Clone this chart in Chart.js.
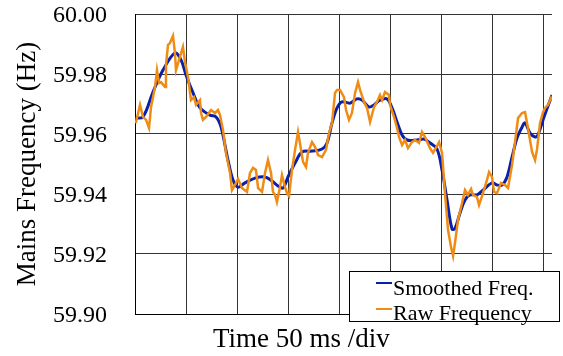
<!DOCTYPE html>
<html>
<head>
<meta charset="utf-8">
<script src="https://cdn.jsdelivr.net/npm/chart.js@4.4.1/dist/chart.umd.min.js"></script>
<style>
    body { margin: 0; background: #fff; }
    #freqChart { display: block; }
</style>
</head>
<body>
<canvas id="freqChart" width="563" height="356"></canvas>
<script>
    // time in ms (50 ms per division), frequency in Hz
    const smoothTime = [0, 7.8, 17.6, 27.4, 39.1, 45.0, 49.9, 56.8, 63.6, 73.4, 79.3, 84.2, 91.0, 95.9, 100.8, 107.6, 117.4, 127.2, 134.1, 139.9, 144.8, 149.7, 156.6, 163.4, 173.2, 183.0, 187.9, 192.8, 197.7, 202.5, 210.4, 217.2, 222.1, 229.0, 233.9, 239.7, 246.6, 251.5, 256.4, 261.3, 266.2, 276.0, 282.8, 288.7, 295.5, 300.4, 305.3, 310.2, 313.1, 318.0, 322.9, 327.8, 334.6, 340.5, 349.3, 354.2, 359.1, 364.0, 368.9, 373.8, 378.7, 381.6, 386.5, 391.4, 394.3, 399.2, 408.0];
    const smoothFreq = [59.9653, 59.9657, 59.9740, 59.9813, 59.9870, 59.9847, 59.9797, 59.9737, 59.9687, 59.9663, 59.9657, 59.9623, 59.9513, 59.9447, 59.9423, 59.9437, 59.9453, 59.9457, 59.9443, 59.9427, 59.9420, 59.9457, 59.9503, 59.9540, 59.9543, 59.9550, 59.9570, 59.9637, 59.9687, 59.9707, 59.9703, 59.9717, 59.9713, 59.9690, 59.9697, 59.9713, 59.9717, 59.9687, 59.9640, 59.9597, 59.9580, 59.9580, 59.9583, 59.9570, 59.9550, 59.9480, 59.9380, 59.9283, 59.9285, 59.9337, 59.9380, 59.9397, 59.9397, 59.9413, 59.9437, 59.9430, 59.9430, 59.9457, 59.9523, 59.9587, 59.9623, 59.9637, 59.9603, 59.9590, 59.9597, 59.9647, 59.9730];

    const rawTime = [0, 1.0, 4.9, 7.8, 10.8, 13.7, 15.7, 19.6, 21.5, 23.5, 25.4, 29.4, 30.3, 32.3, 34.2, 37.2, 39.1, 40.1, 44.0, 46.9, 48.9, 51.9, 54.8, 57.7, 59.7, 63.6, 64.6, 66.5, 69.5, 74.4, 78.3, 81.2, 83.2, 86.1, 89.0, 93.0, 94.9, 97.8, 100.8, 104.7, 109.6, 112.5, 115.5, 118.4, 120.4, 124.3, 127.2, 130.1, 133.1, 135.0, 137.0, 138.9, 141.9, 143.8, 146.8, 148.7, 150.7, 153.6, 156.6, 159.5, 161.4, 164.4, 167.3, 169.3, 173.2, 176.1, 179.1, 183.0, 186.9, 189.8, 192.8, 195.7, 197.7, 200.6, 204.5, 206.5, 209.4, 212.3, 215.3, 218.2, 220.2, 224.1, 227.0, 230.0, 233.9, 236.8, 239.7, 241.7, 244.6, 248.5, 249.5, 253.4, 256.4, 258.3, 261.3, 264.2, 267.1, 271.0, 274.0, 277.9, 280.8, 283.8, 288.6, 291.6, 295.5, 297.5, 300.4, 303.3, 306.3, 309.2, 311.2, 313.1, 316.0, 320.0, 322.9, 325.8, 328.8, 330.7, 334.6, 336.6, 340.5, 344.4, 346.4, 349.3, 351.3, 354.2, 358.1, 362.0, 365.0, 368.9, 371.8, 374.8, 378.7, 381.6, 383.6, 386.5, 388.5, 391.4, 393.3, 396.3, 399.2, 401.2, 404.1, 407.0, 408.0];
    const rawFreq = [59.9640, 59.9640, 59.9697, 59.9657, 59.9647, 59.9620, 59.9690, 59.9757, 59.9813, 59.9770, 59.9773, 59.9757, 59.9830, 59.9897, 59.9903, 59.9927, 59.9870, 59.9813, 59.9857, 59.9890, 59.9840, 59.9790, 59.9713, 59.9723, 59.9697, 59.9713, 59.9670, 59.9647, 59.9657, 59.9680, 59.9670, 59.9680, 59.9663, 59.9613, 59.9537, 59.9470, 59.9413, 59.9430, 59.9450, 59.9420, 59.9407, 59.9470, 59.9487, 59.9480, 59.9420, 59.9407, 59.9470, 59.9513, 59.9470, 59.9407, 59.9397, 59.9373, 59.9423, 59.9463, 59.9423, 59.9403, 59.9393, 59.9480, 59.9547, 59.9607, 59.9570, 59.9507, 59.9490, 59.9537, 59.9573, 59.9557, 59.9530, 59.9523, 59.9547, 59.9603, 59.9637, 59.9737, 59.9747, 59.9747, 59.9723, 59.9680, 59.9647, 59.9670, 59.9737, 59.9773, 59.9747, 59.9707, 59.9687, 59.9640, 59.9690, 59.9707, 59.9730, 59.9713, 59.9740, 59.9730, 59.9697, 59.9657, 59.9620, 59.9590, 59.9563, 59.9580, 59.9553, 59.9573, 59.9580, 59.9570, 59.9607, 59.9590, 59.9553, 59.9537, 59.9560, 59.9573, 59.9537, 59.9403, 59.9280, 59.9223, 59.9193, 59.9237, 59.9313, 59.9370, 59.9413, 59.9397, 59.9417, 59.9397, 59.9390, 59.9363, 59.9403, 59.9447, 59.9473, 59.9457, 59.9407, 59.9403, 59.9437, 59.9430, 59.9420, 59.9497, 59.9573, 59.9653, 59.9670, 59.9673, 59.9637, 59.9580, 59.9540, 59.9513, 59.9547, 59.9637, 59.9673, 59.9687, 59.9697, 59.9720, 59.9713];

    const yTicks = [59.90, 59.92, 59.94, 59.96, 59.98, 60.00];
    const xGrid = [0, 50, 100, 150, 200, 250, 300, 350, 400];

    const serif = "'Liberation Serif', 'Times New Roman', serif";

    // x axis caption, sits left of centre like the original
    const xCaption = {
        id: 'xCaption',
        afterDraw(chart) {
            const ctx = chart.ctx;
            ctx.save();
            ctx.font = '27px ' + serif;
            ctx.fillStyle = '#000';
            ctx.textAlign = 'left';
            ctx.textBaseline = 'alphabetic';
            ctx.fillText('Time 50 ms /div', chart.chartArea.left + 78, 347);
            ctx.restore();
        }
    };

    // boxed legend in the lower right corner
    const boxLegend = {
        id: 'boxLegend',
        afterDraw(chart) {
            const ctx = chart.ctx;
            const x = 349, y = 271, w = 210, h = 50;
            ctx.save();
            ctx.fillStyle = '#fff';
            ctx.fillRect(x, y, w, h);
            ctx.strokeStyle = '#000';
            ctx.lineWidth = 1;
            ctx.strokeRect(x + 0.5, y + 0.5, w, h);
            ctx.font = '22px ' + serif;
            ctx.textAlign = 'left';
            ctx.textBaseline = 'alphabetic';
            chart.data.datasets.forEach((ds, i) => {
                const ly = y + 12 + i * 26;
                ctx.strokeStyle = ds.borderColor;
                ctx.lineWidth = 2;
                ctx.beginPath();
                ctx.moveTo(x + 27, ly);
                ctx.lineTo(x + 43, ly);
                ctx.stroke();
                ctx.fillStyle = '#000';
                ctx.fillText(ds.label, x + 44, y + 24 + i * 25);
            });
            ctx.restore();
        }
    };

    const ctx = document.getElementById('freqChart').getContext('2d');
    new Chart(ctx, {
        type: 'line',
        data: {
            datasets: [{
                label: 'Smoothed Freq.',
                data: smoothTime.map((t, i) => ({ x: t, y: smoothFreq[i] })),
                borderColor: '#0a20a8',
                borderWidth: 3,
                tension: 0.35,
                pointRadius: 0,
                order: 2
            }, {
                label: 'Raw Frequency',
                data: rawTime.map((t, i) => ({ x: t, y: rawFreq[i] })),
                borderColor: '#f08c14',
                borderWidth: 2.5,
                tension: 0,
                pointRadius: 0,
                order: 1
            }]
        },
        options: {
            responsive: false,
            animation: false,
            layout: {
                padding: { left: 0, right: 11, top: 14, bottom: 42 }
            },
            scales: {
                x: {
                    type: 'linear',
                    min: 0,
                    max: 408,
                    afterBuildTicks: axis => { axis.ticks = xGrid.map(v => ({ value: v })); },
                    afterFit: scale => { scale.height = 0; },
                    ticks: { display: false },
                    grid: { color: '#333', lineWidth: 1, drawTicks: false },
                    border: { color: '#000', width: 1 }
                },
                y: {
                    min: 59.90,
                    max: 60.00,
                    afterBuildTicks: axis => { axis.ticks = yTicks.map(v => ({ value: v })); },
                    afterFit: scale => {
                        scale.width = 135;
                        // the big label padding should not push the plot down
                        scale.paddingTop = 0;
                        scale.paddingBottom = 0;
                    },
                    ticks: {
                        padding: 28,
                        labelOffset: 2,
                        color: '#000',
                        font: { family: serif, size: 24, lineHeight: 1 },
                        callback: v => v.toFixed(2)
                    },
                    grid: { color: '#333', lineWidth: 1, drawTicks: false },
                    border: { color: '#000', width: 1 },
                    title: {
                        display: true,
                        text: 'Mains Frequency (Hz)',
                        color: '#000',
                        font: { family: serif, size: 27 },
                        padding: { top: 12, bottom: 0 }
                    }
                }
            },
            plugins: {
                legend: { display: false },
                tooltip: { enabled: false }
            }
        },
        plugins: [xCaption, boxLegend]
    });
</script>
</body>
</html>
